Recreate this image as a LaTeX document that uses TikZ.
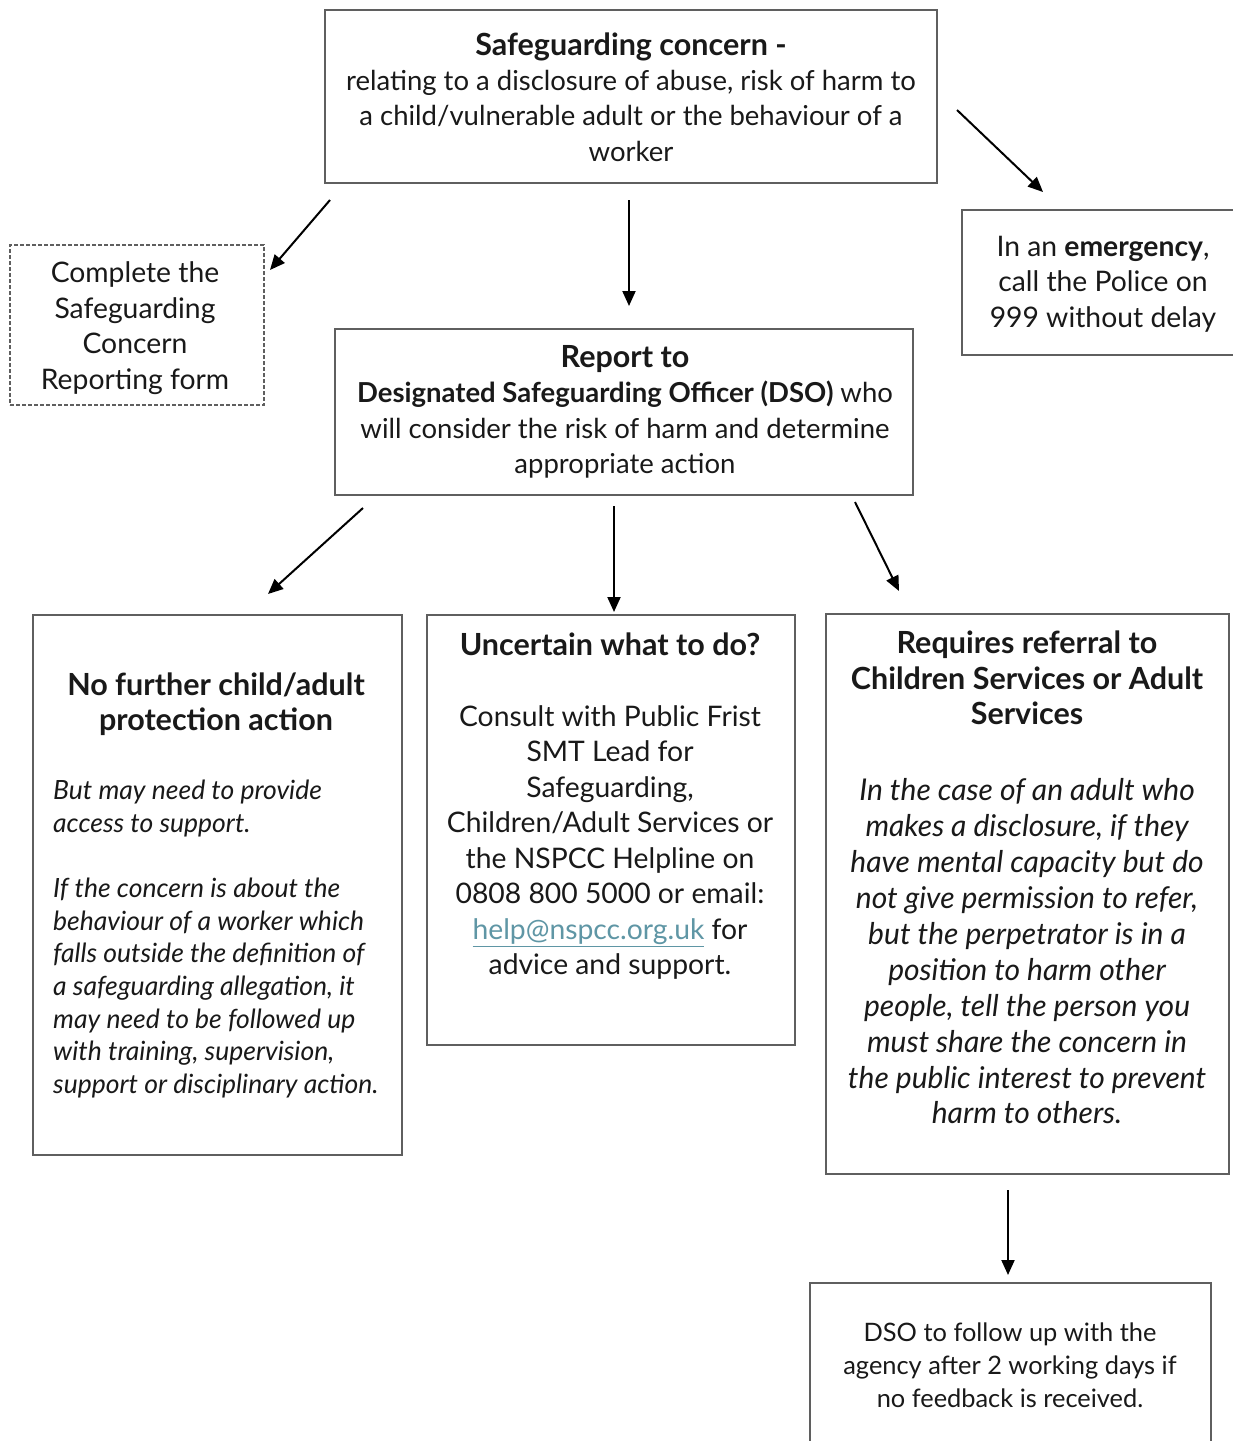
\documentclass[tikz,border=0pt]{standalone}
\usepackage{fontspec}
\setmainfont{Lato}
\usetikzlibrary{arrows.meta}
\definecolor{boxgray}{RGB}{95,95,95}
\definecolor{txt}{RGB}{25,25,25}
\definecolor{linkc}{RGB}{95,150,165}
\tikzset{
  box/.style={draw=boxgray, line width=2pt, rectangle, inner sep=0pt},
  dbox/.style={draw=boxgray, line width=1.8pt, dash pattern=on 4pt off 2pt, rectangle, inner sep=0pt},
  txtnode/.style={inner sep=0pt, text=txt, align=center},
  arr/.style={line width=2pt, -{Triangle[length=15pt,width=13pt]}},
}
\newcommand{\fsA}{\fontsize{28.3}{35.5}\selectfont}
\newcommand{\fsT}{\fontsize{27.5}{35.4}\selectfont}
\newcommand{\fsB}{\fontsize{26.5}{32.7}\selectfont}
\newcommand{\fsC}{\fontsize{25.4}{33}\selectfont}
\newcommand{\fsI}{\fontsize{30}{35.9}\selectfont}
\newcommand{\bt}[1]{{\fontsize{30.5}{35.5}\selectfont\bfseries #1}}
\begin{document}
\begin{tikzpicture}[x=1pt,y=-1pt]
\clip (0,0) rectangle (1233,1441);
\fill[white] (0,0) rectangle (1233,1441);
% boxes
\node[box, minimum width=612pt, minimum height=173pt] (top) at (631,96.5) {};
\node[dbox, minimum width=254pt, minimum height=160pt] (form) at (137,325) {};
\node[box, minimum width=274pt, minimum height=145pt] (emerg) at (1099,282.5) {};
\node[box, minimum width=578pt, minimum height=166pt] (report) at (624,412) {};
\node[box, minimum width=369pt, minimum height=540pt] (nofurther) at (217.5,885) {};
\node[box, minimum width=368pt, minimum height=430pt] (uncertain) at (611,830) {};
\node[box, minimum width=403pt, minimum height=560pt] (referral) at (1027.5,894) {};
\node[box, minimum width=401pt, minimum height=190pt] (dso) at (1010.5,1378) {};
% texts
\node[txtnode, font=\fsT] (topT) at (631,97) {\bt{Safeguarding concern -}\\relating to a disclosure of abuse, risk of harm to\\a child/vulnerable adult or the behaviour of a\\worker};
\node[txtnode, font=\fsA] (formT) at (135,328) {Complete the\\Safeguarding\\Concern\\Reporting form};
\node[txtnode, font=\fsA] (emergT) at (1103,284) {In an \textbf{emergency},\\call the Police on\\999 without delay};
\node[txtnode, font=\fsT] (reportT) at (625,412) {\bt{Report to}\\\textbf{Designated Safeguarding Officer (DSO)} who\\will consider the risk of harm and determine\\appropriate action};
\node[txtnode, font=\fsA] (nfT) at (216,704) {\bt{No further child/adult}\\\bt{protection action}};
\node[txtnode, font=\fsB\itshape, align=left, anchor=west] (nfI) at (53,939) {But may need to provide\\access to support.\\[32.7pt]If the concern is about the\\behaviour of a worker which\\falls outside the definition of\\a safeguarding allegation, it\\may need to be followed up\\with training, supervision,\\support or disciplinary action.};
\node[txtnode, font=\fsA] (unT) at (610,644) {\bt{Uncertain what to do?}};
\node[txtnode, font=\fsA] (unB) at (610,842.5) {Consult with Public Frist\\SMT Lead for\\Safeguarding,\\Children/Adult Services or\\the NSPCC Helpline on\\0808 800 5000 or email:\\\textcolor{linkc}{\underline{help@nspcc.org.uk}} for\\advice and support.};
\node[txtnode, font=\fsA] (refT) at (1027,678) {\bt{Requires referral to}\\\bt{Children Services or Adult}\\\bt{Services}};
\node[txtnode, font=\fsI\itshape] (refI) at (1027,951.5) {In the case of an adult who\\makes a disclosure, if they\\have mental capacity but do\\not give permission to refer,\\but the perpetrator is in a\\position to harm other\\people, tell the person you\\must share the concern in\\the public interest to prevent\\harm to others.};
\node[txtnode, font=\fsC] (dsoT) at (1010,1365) {DSO to follow up with the\\agency after 2 working days if\\no feedback is received.};
% arrow end points
\coordinate (a1s) at (330,200); \coordinate (a1e) at (270,270);
\coordinate (a2s) at (629,200); \coordinate (a2e) at (629,306);
\coordinate (a3s) at (957,110); \coordinate (a3e) at (1043,192);
\coordinate (a4s) at (363,508); \coordinate (a4e) at (268,594);
\coordinate (a5s) at (614,506); \coordinate (a5e) at (614,612);
\coordinate (a6s) at (855,502); \coordinate (a6e) at (899,591);
\coordinate (a7s) at (1008,1190); \coordinate (a7e) at (1008,1275);
\draw[arr] (a1s) -- (a1e);
\draw[arr] (a2s) -- (a2e);
\draw[arr] (a3s) -- (a3e);
\draw[arr] (a4s) -- (a4e);
\draw[arr] (a5s) -- (a5e);
\draw[arr] (a6s) -- (a6e);
\draw[arr] (a7s) -- (a7e);
\end{tikzpicture}
\end{document}
